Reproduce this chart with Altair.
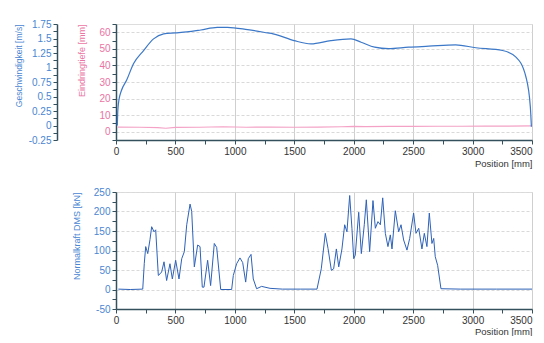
import altair as alt
import pandas as pd

# --- Top panel: speed (m/s) and penetration depth (mm) over position (mm)
pos_v = [11, 14, 18, 25, 45, 90, 147, 232, 316, 401, 500, 596, 713, 852, 937, 1107, 1276,
         1321, 1498, 1640, 1808, 1977, 2062, 2176, 2293, 2462, 2631, 2857, 3027, 3252,
         3365, 3449, 3486, 3495]
vel = [0.0, 0.2, 0.33, 0.444, 0.6, 0.784, 1.064, 1.293, 1.493, 1.579, 1.596, 1.613, 1.647,
       1.693, 1.693, 1.653, 1.596, 1.58, 1.464, 1.407, 1.464, 1.493, 1.436, 1.35, 1.324,
       1.35, 1.367, 1.39, 1.341, 1.293, 1.179, 0.836, 0.321, -0.02]

pos_e = [15, 200, 350, 420, 500, 700, 900, 1100, 1300, 1500, 1700, 1900, 2000, 2100, 2300,
         2500, 2700, 2900, 3100, 3300, 3495]
depth = [2.8, 2.7, 2.5, 2.1, 2.6, 2.7, 3.0, 2.7, 2.8, 2.7, 2.8, 3.0, 3.2, 3.1, 3.2, 3.2,
         3.3, 3.3, 3.4, 3.4, 3.5]

# --- Bottom panel: normal force (kN) over position (mm)
pos_n = [20, 120, 225, 238, 250, 267, 286, 300, 320, 334, 356, 370, 384, 404, 426, 454, 474,
         502, 530, 553, 575, 595, 623, 637, 659, 687, 707, 726, 740, 771, 796, 827, 847, 881,
         973, 987, 1015, 1043, 1066, 1091, 1113, 1136, 1155, 1183, 1225, 1296, 1400, 1550,
         1691, 1727, 1761, 1784, 1812, 1831, 1854, 1874, 1901, 1924, 1943, 1966, 1985, 2000,
         2013, 2042, 2064, 2089, 2106, 2134, 2162, 2182, 2204, 2224, 2244, 2266, 2288, 2308,
         2322, 2350, 2378, 2398, 2420, 2448, 2471, 2504, 2524, 2547, 2574, 2594, 2616, 2636,
         2658, 2673, 2686, 2706, 2734, 2900, 3200, 3500]
force = [1, 0, 1, 67, 110, 92, 128, 161, 148, 153, 36, 40, 45, 71, 23, 66, 27,
         75, 27, 79, 97, 166, 219, 200, 58, 114, 110, 6, 6, 75, 10, 118, 108, 0,
         0, 36, 66, 81, 69, 19, 79, 90, 27, 2, 8, 3, 1, 1,
         1, 53, 144, 105, 49, 53, 104, 58, 104, 166, 148, 241, 157, 79,
         88, 198, 92, 166, 230, 97, 228, 157, 174, 166, 235, 144, 110, 140,
         104, 202, 148, 166, 127, 101, 131, 196, 144, 157, 104, 144, 110, 196,
         118, 131, 84, 62, 2, 1, 1, 1]

x_ticks = list(range(0, 3501, 250))
v_ticks = [i * 0.125 for i in range(-2, 15)]
e_ticks = list(range(-5, 66, 5))
n_ticks = list(range(-50, 251, 25))

BLUE = "#3c78c8"
BLUE_TXT = "#4a86d2"
PINK = "#f4a2c6"
PINK_TXT = "#ea74a4"
DARK = "#34505c"
GRID = "#d9d9d9"
FONT = "Liberation Sans"

df_v = pd.DataFrame({"pos": pos_v, "vel": vel})
df_e = pd.DataFrame({"pos": pos_e, "depth": depth})
df_n = pd.DataFrame({"pos": pos_n, "force": force})


def x_enc(title_pad=2):
    return alt.X(
        "pos:Q",
        scale=alt.Scale(domain=[0, 3500], nice=False),
        axis=alt.Axis(
            values=x_ticks,
            labelExpr="datum.value % 500 === 0 ? '' + datum.value : ''",
            labelAlign={"condition": {"test": "datum.value === 3500", "value": "right"}, "value": "center"},
            title="Position [mm]",
            titleAnchor="end",
            titleAlign="right",
            titleX=416,
            titleFontSize=9.5,
            titleFontWeight="normal",
            titleColor="#333333",
            titlePadding=title_pad,
            labelColor="#333333",
            labelFontSize=10,
            labelPadding=2,
            tickSize=4,
            tickColor=DARK,
            domainColor=DARK,
            domainWidth=1.5,
            grid=True,
            gridColor="#cfcfcf",
            gridOpacity={"condition": {"test": "datum.value % 500 === 0", "value": 1}, "value": 0},
        ),
    )


blue_line = alt.Chart(df_v).mark_line(color=BLUE, strokeWidth=1.2, interpolate="monotone").encode(
    x=x_enc(),
    y=alt.Y(
        "vel:Q",
        scale=alt.Scale(domain=[-0.25, 1.75], nice=False, zero=False),
        axis=alt.Axis(
            orient="left",
            offset=59,
            values=v_ticks,
            labelExpr="(datum.value * 4) % 1 === 0 ? '' + datum.value : ''",
            title="Geschwindigkeit [m/s]",
            titleAnchor="end",
            titleColor=BLUE_TXT,
            titleFontSize=8.5,
            titleFontWeight="normal",
            titlePadding=5,
            labelColor=BLUE_TXT,
            labelFontSize=10,
            labelPadding=2,
            tickSize=4,
            tickColor=DARK,
            domainColor=DARK,
            domainWidth=1.5,
            grid=False,
        ),
    ),
)

pink_line = alt.Chart(df_e).mark_line(color=PINK, strokeWidth=1.2).encode(
    x=x_enc(),
    y=alt.Y(
        "depth:Q",
        scale=alt.Scale(domain=[-5, 65], nice=False, zero=False),
        axis=alt.Axis(
            orient="left",
            values=e_ticks,
            labelExpr="datum.value % 10 === 0 && datum.value >= 0 && datum.value <= 60 ? '' + datum.value : ''",
            title="Eindringtiefe [mm]",
            titleAnchor="end",
            titleColor=PINK_TXT,
            titleFontSize=9,
            titleFontWeight="normal",
            titlePadding=12,
            labelColor=PINK_TXT,
            labelFontSize=10,
            labelPadding=2,
            tickSize=4,
            tickColor=DARK,
            domainColor=DARK,
            domainWidth=1.5,
            grid=True,
            gridColor=GRID,
            gridDash=[3, 2],
            gridOpacity={"condition": {"test": "datum.value % 10 === 0 && datum.value >= 0", "value": 1}, "value": 0},
        ),
    ),
)

top = alt.layer(pink_line, blue_line).resolve_scale(y="independent").properties(
    width=416, height=116
)

bottom = alt.Chart(df_n).mark_line(color="#2e62b8", strokeWidth=1.0).encode(
    x=x_enc(title_pad=1),
    y=alt.Y(
        "force:Q",
        scale=alt.Scale(domain=[-50, 250], nice=False, zero=False),
        axis=alt.Axis(
            values=n_ticks,
            labelExpr="datum.value % 50 === 0 ? '' + datum.value : ''",
            title="Normalkraft DMS [kN]",
            titleAnchor="end",
            titleColor=BLUE_TXT,
            titleFontSize=9,
            titleFontWeight="normal",
            titlePadding=12,
            labelColor=BLUE_TXT,
            labelFontSize=10,
            labelPadding=2,
            tickSize=4,
            tickColor=DARK,
            domainColor=DARK,
            domainWidth=1.5,
            grid=True,
            gridColor=GRID,
            gridDash=[3, 2],
            gridOpacity={"condition": {"test": "datum.value % 50 === 0", "value": 1}, "value": 0},
        ),
    ),
).properties(width=416, height=117)

chart = alt.vconcat(top, bottom, spacing=18).properties(
    padding={"left": 5, "top": 10, "right": 0, "bottom": 0},
    background="white",
).configure_view(
    stroke=DARK, strokeWidth=1.5
).configure(font=FONT)

chart.save("out.html", embed_options={"renderer": "svg", "actions": False})
